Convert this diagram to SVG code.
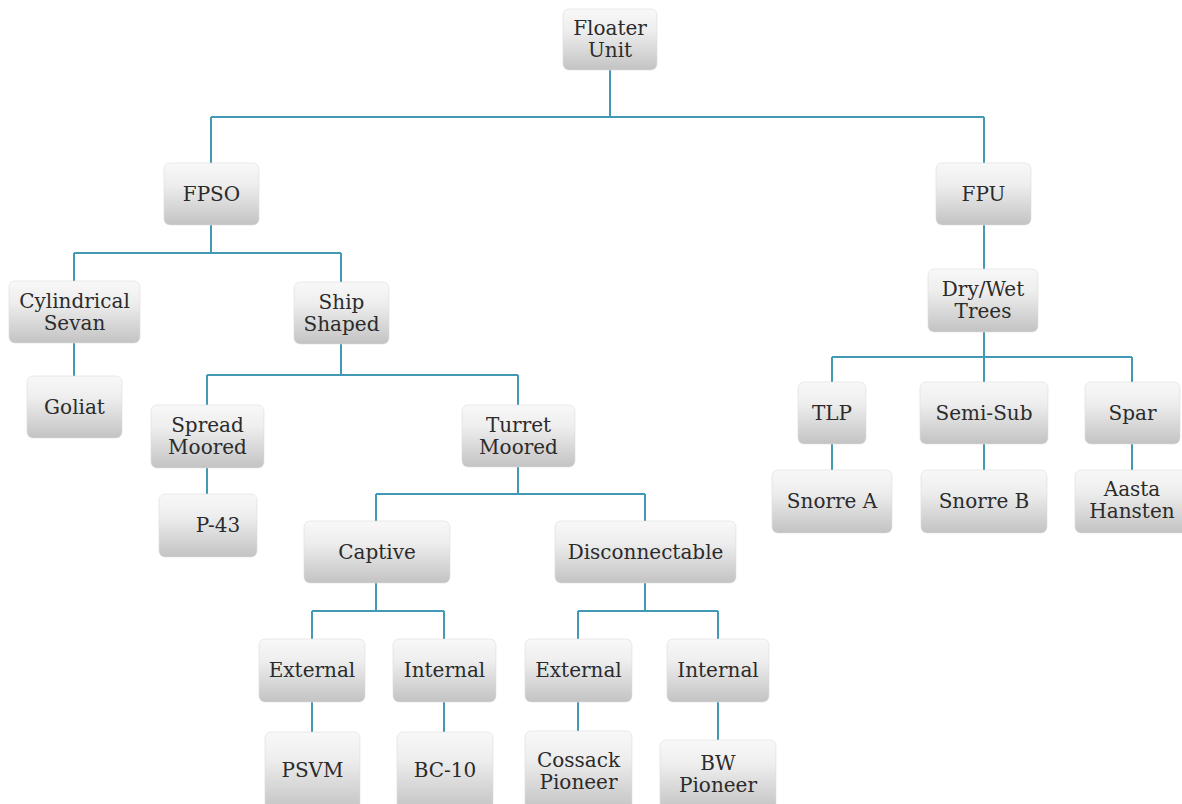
<svg xmlns="http://www.w3.org/2000/svg" width="1182" height="804" viewBox="0 0 1182 804">
<defs>
<linearGradient id="g" x1="0" y1="0" x2="0" y2="1">
<stop offset="0" stop-color="#f8f8f8"/>
<stop offset="0.35" stop-color="#eeeeee"/>
<stop offset="1" stop-color="#c3c3c3"/>
</linearGradient>
</defs>
<style>
.box{fill:url(#g);stroke:#dcdcdc;stroke-width:0.6}
.t{font-family:"DejaVu Serif","Liberation Serif",serif;font-size:20px;fill:#2b2b2b;text-anchor:middle}
.c{fill:none;stroke:#4299b5;stroke-width:2}
</style>
<rect width="1182" height="804" fill="#ffffff"/>
<g id="connectors" class="c">
<path d="M610,70V117M211,117H984M211,117V163M984,117V163"/>
<path d="M211,225V253M74,253H341M74,253V281M341,253V282"/>
<path d="M74,343V376"/>
<path d="M341,344V375M207,375H518M207,375V405M518,375V405"/>
<path d="M207,468V494"/>
<path d="M518,467V494M376,494H645M376,494V521M645,494V521"/>
<path d="M376,583V611M312,611H444M312,611V639M444,611V639"/>
<path d="M645,583V611M578,611H718M578,611V639M718,611V639"/>
<path d="M312,702V732M444,702V732M578,702V731M718,702V740"/>
<path d="M984,225V269"/>
<path d="M984,332V357M832,357H1132M832,357V382M984,357V382M1132,357V382"/>
<path d="M832,444V470M984,444V470M1132,444V470"/>
</g>
<g id="floater-unit"><rect class="box" x="563" y="9" width="94" height="61" rx="6"/><text class="t" x="610" y="35">Floater</text><text class="t" x="610" y="57">Unit</text></g>
<g id="fpso"><rect class="box" x="164" y="163" width="95" height="62" rx="6"/><text class="t" x="211.5" y="201">FPSO</text></g>
<g id="fpu"><rect class="box" x="936" y="163" width="95" height="62" rx="6"/><text class="t" x="983.5" y="201">FPU</text></g>
<g id="cylindrical-sevan"><rect class="box" x="9" y="281" width="131" height="62" rx="6"/><text class="t" x="74.5" y="308">Cylindrical</text><text class="t" x="74.5" y="330">Sevan</text></g>
<g id="goliat"><rect class="box" x="27" y="376" width="95" height="62" rx="6"/><text class="t" x="74.5" y="414">Goliat</text></g>
<g id="ship-shaped"><rect class="box" x="294" y="282" width="95" height="62" rx="6"/><text class="t" x="341.5" y="309">Ship</text><text class="t" x="341.5" y="331">Shaped</text></g>
<g id="spread-moored"><rect class="box" x="151" y="405" width="113" height="63" rx="6"/><text class="t" x="207.5" y="432">Spread</text><text class="t" x="207.5" y="454">Moored</text></g>
<g id="p-43"><rect class="box" x="159" y="494" width="98" height="63" rx="6"/><text class="t" x="218" y="532">P-43</text></g>
<g id="turret-moored"><rect class="box" x="462" y="405" width="113" height="62" rx="6"/><text class="t" x="518.5" y="432">Turret</text><text class="t" x="518.5" y="454">Moored</text></g>
<g id="captive"><rect class="box" x="304" y="521" width="146" height="62" rx="6"/><text class="t" x="377" y="559">Captive</text></g>
<g id="disconnectable"><rect class="box" x="555" y="521" width="181" height="62" rx="6"/><text class="t" x="645.5" y="559">Disconnectable</text></g>
<g id="external-1"><rect class="box" x="259" y="639" width="106" height="63" rx="6"/><text class="t" x="312" y="677">External</text></g>
<g id="internal-1"><rect class="box" x="393" y="639" width="103" height="63" rx="6"/><text class="t" x="444.5" y="677">Internal</text></g>
<g id="external-2"><rect class="box" x="525" y="639" width="107" height="63" rx="6"/><text class="t" x="578.5" y="677">External</text></g>
<g id="internal-2"><rect class="box" x="667" y="639" width="102" height="63" rx="6"/><text class="t" x="718" y="677">Internal</text></g>
<g id="psvm"><rect class="box" x="265" y="732" width="95" height="78" rx="6"/><text class="t" x="312.5" y="777">PSVM</text></g>
<g id="bc-10"><rect class="box" x="397" y="732" width="96" height="78" rx="6"/><text class="t" x="445" y="777">BC-10</text></g>
<g id="cossack-pioneer"><rect class="box" x="525" y="731" width="107" height="79" rx="6"/><text class="t" x="578.5" y="767">Cossack</text><text class="t" x="578.5" y="789">Pioneer</text></g>
<g id="bw-pioneer"><rect class="box" x="660" y="740" width="116" height="70" rx="6"/><text class="t" x="718" y="770">BW</text><text class="t" x="718" y="792">Pioneer</text></g>
<g id="dry-wet-trees"><rect class="box" x="928" y="269" width="110" height="63" rx="6"/><text class="t" x="983" y="296">Dry/Wet</text><text class="t" x="983" y="318">Trees</text></g>
<g id="tlp"><rect class="box" x="798" y="382" width="68" height="62" rx="6"/><text class="t" x="832" y="420">TLP</text></g>
<g id="semi-sub"><rect class="box" x="920" y="382" width="128" height="62" rx="6"/><text class="t" x="984" y="420">Semi-Sub</text></g>
<g id="spar"><rect class="box" x="1085" y="382" width="95" height="62" rx="6"/><text class="t" x="1132.5" y="420">Spar</text></g>
<g id="snorre-a"><rect class="box" x="772" y="470" width="120" height="63" rx="6"/><text class="t" x="832" y="508">Snorre A</text></g>
<g id="snorre-b"><rect class="box" x="921" y="470" width="126" height="63" rx="6"/><text class="t" x="984" y="508">Snorre B</text></g>
<g id="aasta-hansten"><rect class="box" x="1075" y="470" width="114" height="63" rx="6"/><text class="t" x="1132" y="496">Aasta</text><text class="t" x="1132" y="518">Hansten</text></g>
</svg>
